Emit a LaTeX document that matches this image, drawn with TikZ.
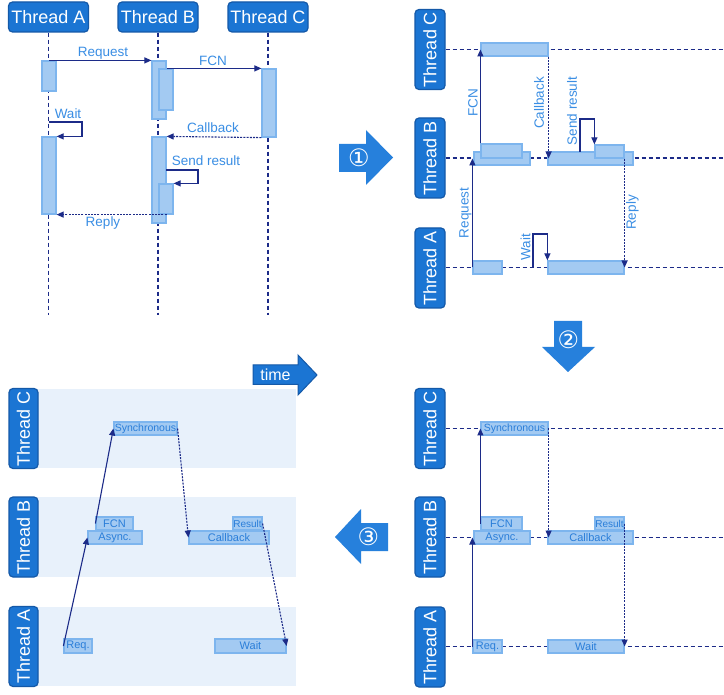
\documentclass[tikz,border=0pt]{standalone}
\usepackage{fontspec}
\setmainfont{Liberation Sans}
\newfontfamily\dejavu{DejaVu Sans}
\usetikzlibrary{arrows.meta}
\definecolor{hdrfill}{HTML}{1B75D3}
\definecolor{hdrline}{HTML}{1459A8}
\definecolor{boxfill}{HTML}{A3CAF2}
\definecolor{boxline}{HTML}{7DB5EE}
\definecolor{boxtext}{HTML}{2A7ED9}
\definecolor{lbltext}{HTML}{3A8EE4}
\definecolor{navy}{HTML}{1C2B88}
\definecolor{bandfill}{HTML}{E8F1FB}
\definecolor{bigarrow}{HTML}{2680DC}
\tikzset{
  hdr/.style={draw=hdrline, fill=hdrfill, rounded corners=4pt, line width=1.2pt, text=white,
    font=\fontsize{18}{18}\selectfont, minimum width=80pt, minimum height=30pt, inner sep=0pt},
  vhdr/.style={hdr, rotate=90},
  act/.style={draw=boxline, fill=boxfill, line width=1.2pt, inner sep=0pt, text=boxtext,
    font=\fontsize{11}{11}\selectfont},
  life/.style={draw=navy, dash pattern=on 4pt off 3pt, line width=1.1pt},
  msg/.style={draw=navy, line width=1.1pt, -{Triangle[length=7pt,width=6pt]}},
  rmsg/.style={msg, dash pattern=on 2pt off 1.2pt},
  lbl/.style={text=lbltext, font=\fontsize{13.5}{13.5}\selectfont, inner sep=0pt},
  num/.style={text=white, font=\dejavu\fontsize{24}{24}\selectfont, inner sep=0pt},
  bigarr/.style={fill=bigarrow},
}
\newcommand\mkbox[6]{\node[act, minimum width={(#3-#2)*1pt}, minimum height={(#5-#4)*1pt}] (#1) at ({(#2+#3)/2},{(#4+#5)/2}) {#6};}
\begin{document}
\begin{tikzpicture}[x=1pt,y=-1pt]
\fill[white] (0,0) rectangle (724,695);
\useasboundingbox (0,0) rectangle (724,695);

% ===== top-left: sequence diagram =====
\node[hdr] (hA) at (48.5,17) {Thread A};
\node[hdr] (hB) at (158,17) {Thread B};
\node[hdr] (hC) at (268,17) {Thread C};
\coordinate (eA) at (48.5,315);
\coordinate (eB) at (158,315);
\coordinate (eC) at (268,315);
\draw[life] (hA.south) -- (eA);
\draw[life] (hB.south) -- (eB);
\draw[life] (hC.south) -- (eC);
\mkbox{a1}{42}{56}{61}{91}{}
\mkbox{b1}{152}{166}{61}{119}{}
\mkbox{b2}{159}{173}{69}{110}{}
\mkbox{c1}{262}{276}{69}{137}{}
\mkbox{a2}{42}{56}{137}{214}{}
\mkbox{b3}{152}{166}{137}{223}{}
\mkbox{b4}{159}{173}{184}{214}{}
\coordinate (w1) at (48.5,122);
\coordinate (s1) at (166,170);
\draw[msg] (a1.north) -- (b1.north west);
\draw[msg] (b1.east |- b2.north) -- (c1.north west);
\draw[msg] (w1) -- ++(33.5,0) |- (a2.north east);
\draw[rmsg] (c1.south west) -- (b3.north east);
\draw[msg] (s1) -- ++(32,0) |- (b4.north east);
\draw[rmsg] (b3.east |- b4.south) -- (a2.south east);
\node[lbl] (lq1) at (103,53) {Request};
\node[lbl] (lf1) at (213,61) {FCN};
\node[lbl] (lw1) at (68,114) {Wait};
\node[lbl] (lc1) at (213,128) {Callback};
\node[lbl] (ls1) at (206,161) {Send result};
\node[lbl] (lr1) at (103,223) {Reply};

% ===== big arrow 1 =====
\fill[bigarr] (339,144) -- (366,144) -- (366,130) -- (393,157.5) -- (366,185) -- (366,172) -- (339,172) -- cycle;
\node[num] (n1) at (359,157.5) {①};

% ===== top-right: rotated =====
\node[vhdr] (rC) at (430,49.5) {Thread C};
\node[vhdr] (rB) at (430,158) {Thread B};
\node[vhdr] (rA) at (430,268) {Thread A};
\coordinate (rCe) at (724,49.5);
\coordinate (rBe) at (724,158);
\coordinate (rAe) at (724,267.5);
\draw[life] (rC.south |- rCe) -- (rCe);
\draw[life] (rB.south |- rBe) -- (rBe);
\draw[life] (rA.south |- rAe) -- (rAe);
\mkbox{tc}{481}{548}{43}{56}{}
\mkbox{tb1}{474}{530}{152}{165}{}
\mkbox{tb2}{481}{522}{144}{158}{}
\mkbox{tb3}{548}{633}{152}{165}{}
\mkbox{tb4}{595}{624}{145}{158}{}
\mkbox{ta1}{473}{502}{261}{274}{}
\mkbox{ta2}{548}{624}{261}{274}{}
\coordinate (w2) at (533,267.5);
\coordinate (s2) at (580,152);
\draw[msg] (ta1.west) -- (ta1.west |- tb1.west);
\draw[msg] (tb2.north west) -- (tb2.north west |- tc.west);
\draw[msg] (w2) -- ++(0,-33.5) -| (ta2.north west);
\draw[rmsg] (tc.south east) -- (tc.south east |- tb3.west);
\draw[msg] (s2) -- ++(0,-33) -| (tb4.north west);
\draw[rmsg] (tb4.south east) -- (tb4.south east |- ta2.east);
\node[lbl, rotate=90] (lq2) at (465.5,213) {Request};
\node[lbl, rotate=90] (lf2) at (473,103) {FCN};
\node[lbl, rotate=90] (lw2) at (525.5,247) {Wait};
\node[lbl, rotate=90] (lc2) at (539,103) {Callback};
\node[lbl, rotate=90] (ls2) at (572,111) {Send result};
\node[lbl, rotate=90] (lr2) at (632.5,212.5) {Reply};

% ===== big arrow 2 =====
\fill[bigarr] (554,321) -- (582,321) -- (582,347) -- (595,347) -- (568,372) -- (542,347) -- (554,347) -- cycle;
\node[num] (n2) at (568.5,339.5) {②};

% ===== bottom-right =====
\node[vhdr] (qC) at (430,428.5) {Thread C};
\node[vhdr] (qB) at (430,537) {Thread B};
\node[vhdr] (qA) at (430,647) {Thread A};
\coordinate (qCe) at (724,428.5);
\coordinate (qBe) at (724,537.5);
\coordinate (qAe) at (724,646.5);
\draw[life] (qC.south |- qCe) -- (qCe);
\draw[life] (qB.south |- qBe) -- (qBe);
\draw[life] (qA.south |- qAe) -- (qAe);
\mkbox{sync2}{481}{548}{422}{435}{\fontsize{10.5}{10.5}\selectfont Synchronous}
\mkbox{fcn2}{481}{522}{517}{530}{FCN}
\mkbox{async2}{474}{530}{531}{544}{Async.}
\mkbox{res2}{595}{624}{517}{530}{\fontsize{10}{10}\selectfont Result}
\mkbox{cb2}{548}{633}{531}{544}{Callback}
\mkbox{req2}{473}{502}{640}{653}{Req.}
\mkbox{wait2}{548}{624}{640}{653}{Wait}
\draw[msg] (req2.west) -- (req2.west |- async2.west);
\draw[msg] (fcn2.west) -- (fcn2.west |- sync2.west);
\draw[rmsg] (sync2.east) -- (sync2.east |- cb2.west);
\draw[rmsg] (res2.east) -- (res2.east |- wait2.east);

% ===== big arrow 3 =====
\fill[bigarr] (388,523) -- (361,523) -- (361,509) -- (335,537) -- (361,564) -- (361,551) -- (388,551) -- cycle;
\node[num] (n3) at (368.5,536.5) {③};

% ===== bottom-left: time line =====
\fill[bandfill] (37,389) rectangle (296,468);
\fill[bandfill] (37,497) rectangle (296,577);
\fill[bandfill] (37,607) rectangle (296,686);
\node[vhdr, minimum height=29pt] (lC) at (23.5,428.5) {Thread C};
\node[vhdr, minimum height=29pt] (lB) at (23.5,537) {Thread B};
\node[vhdr, minimum height=29pt] (lA) at (23.5,646.5) {Thread A};
\draw[draw=hdrline, fill=hdrfill, line width=1pt] (253,365) -- (298,365) -- (298,355) -- (317,375) -- (298,395) -- (298,384.5) -- (253,384.5) -- cycle;
\node[text=white, font=\fontsize{16}{16}\selectfont, inner sep=0pt] (tm) at (275.5,374.5) {time};
\mkbox{sync3}{114}{177}{422}{435}{\fontsize{10.5}{10.5}\selectfont Synchronous}
\mkbox{fcn3}{96}{133}{517}{530}{FCN}
\mkbox{async3}{88}{142}{531}{544}{Async.}
\mkbox{res3}{233}{262}{517}{530}{\fontsize{10}{10}\selectfont Result}
\mkbox{cb3}{189}{269}{531}{544}{Callback}
\mkbox{req3}{64}{92}{639}{653}{Req.}
\mkbox{wait3}{215}{286}{639}{653}{Wait}
\draw[msg] (req3.west) -- (async3.west);
\draw[msg] (fcn3.west) -- (sync3.west);
\draw[rmsg] (sync3.east) -- (cb3.west);
\draw[rmsg] (res3.east) -- (wait3.east);
\end{tikzpicture}
\end{document}
